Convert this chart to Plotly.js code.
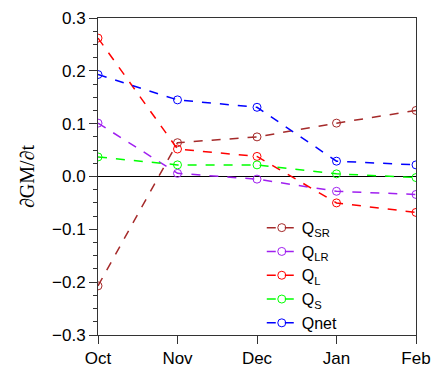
<!DOCTYPE html>
<html>
<head>
<meta charset="utf-8">
<script src="https://cdn.plot.ly/plotly-3.0.1.min.js"></script>
<style>html,body{margin:0;padding:0;background:#fff;}#chart{width:433px;height:376px;}</style>
</head>
<body>
<div id="chart"></div>
<script>
const months = ["Oct", "Nov", "Dec", "Jan", "Feb"];
const qSR  = [-0.207, 0.064, 0.075, 0.101, 0.125];
const qLR  = [0.101, 0.006, -0.005, -0.028, -0.034];
const qL   = [0.262, 0.052, 0.038, -0.050, -0.068];
const qS   = [0.037, 0.022, 0.022, 0.005, -0.002];
const qNet = [0.193, 0.145, 0.131, 0.029, 0.022];

const seriesNames  = ["Q<sub>SR</sub>", "Q<sub>LR</sub>", "Q<sub>L</sub>", "Q<sub>S</sub>", "Qnet"];
const seriesColors = ["#a52a2a", "#a020f0", "#ff0000", "#00ff00", "#0000ff"];
const seriesValues = [qSR, qLR, qL, qS, qNet];

const traces = seriesValues.map((vals, i) => ({
  x: months,
  y: vals,
  name: seriesNames[i],
  type: "scatter",
  mode: "lines+markers",
  line: {color: seriesColors[i], width: 1.5, dash: "dash"},
  marker: {symbol: "circle-open", size: 8, color: seriesColors[i], line: {width: 1, color: seriesColors[i]}}
}));

const layout = {
  width: 433, height: 376,
  margin: {l: 98, r: 17, t: 18, b: 41},
  paper_bgcolor: "#fff", plot_bgcolor: "#fff",
  font: {family: "Liberation Sans, Arial, sans-serif", size: 17, color: "#000"},
  showlegend: true,
  legend: {
    x: 0.515, y: 0.392, xanchor: "left", yanchor: "top",
    bgcolor: "rgba(0,0,0,0)", borderwidth: 0,
    font: {family: "Liberation Sans, Arial, sans-serif", size: 16},
    tracegroupgap: 0
  },
  xaxis: {
    type: "category",
    range: [0, 4],
    showgrid: false, zeroline: false,
    showline: true, linecolor: "#333", linewidth: 1, mirror: true,
    ticks: "outside", ticklen: 8, tickcolor: "#333",
    tickfont: {size: 17}
  },
  yaxis: {
    range: [-0.3, 0.3],
    dtick: 0.1, tick0: 0,
    tickformat: ".1f",
    showgrid: false,
    zeroline: true, zerolinecolor: "#000", zerolinewidth: 1,
    showline: true, linecolor: "#333", linewidth: 1, mirror: true,
    ticks: "outside", ticklen: 8, tickcolor: "#333",
    minor: {dtick: 0.025, tick0: 0, ticks: "outside", ticklen: 4, tickcolor: "#333", showgrid: false},
    tickfont: {size: 17},
    title: {text: "∂GM/∂t", font: {family: "Liberation Serif, Times New Roman, serif", size: 20}, standoff: 12}
  }
};

Plotly.newPlot("chart", traces, layout, {displayModeBar: false, staticPlot: true});
</script>
</body>
</html>
